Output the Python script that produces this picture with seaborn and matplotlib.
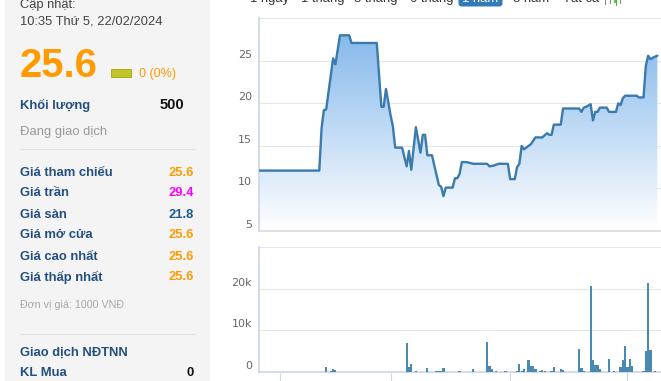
import numpy as np
import pandas as pd
import matplotlib
matplotlib.use("Agg")
import matplotlib.pyplot as plt
from matplotlib.patches import Rectangle, FancyBboxPatch
from matplotlib.colors import LinearSegmentedColormap
import seaborn as sns

sns.set_theme(style="white")
plt.rcParams['font.family'] = ['Liberation Sans', 'DejaVu Sans']

# price path, 1 year (session index -> price in 1000 VND)
price_session = [0, 26, 27, 28, 29, 32, 33, 35, 39, 40, 51, 53, 54, 55, 57, 58, 59, 62, 64, 65,
                 66, 68, 70, 71, 72, 73, 75, 78, 79, 80, 81, 84, 85, 86, 87, 88, 90, 93, 99, 100,
                 102, 104, 108, 109, 111, 112, 113, 114, 115, 116, 118, 120, 123, 125, 126, 127,
                 128, 131, 132, 139, 140, 141, 142, 144, 145, 146, 147, 148, 151, 152, 155, 156,
                 157, 158, 159, 164, 165, 167, 168, 169, 170, 172, 173]
price_value = [12.1, 12.1, 17.1, 19.2, 19.3, 25.3, 24.6, 28.0, 28.0, 27.1, 27.1, 19.6, 19.6, 21.7,
               18.6, 17.3, 14.8, 14.8, 12.6, 14.4, 12.2, 17.2, 14.2, 16.3, 16.3, 13.9, 13.9, 10.4,
               10.2, 9.1, 10.1, 10.1, 11.2, 11.2, 11.7, 13.1, 13.1, 12.9, 12.9, 12.6, 12.7, 12.9,
               12.9, 11.1, 11.1, 12.5, 12.9, 15.0, 14.6, 14.8, 15.2, 16.0, 16.0, 16.5, 16.3, 16.3,
               17.5, 17.5, 19.4, 19.4, 19.0, 19.5, 19.6, 19.9, 18.0, 19.0, 19.0, 19.5, 19.5, 19.0,
               19.0, 20.0, 19.8, 20.6, 20.9, 20.9, 20.7, 20.7, 24.4, 25.6, 25.2, 25.5, 25.6]

# volume bars (session index -> shares)
vol_session = [29, 31, 32, 33, 64, 65, 66, 68, 73, 77, 78, 79, 80, 87, 93, 99, 100, 101, 103, 107,
               112, 113, 114, 115, 117, 118, 119, 120, 122, 123, 124, 127, 128, 131, 132, 139,
               140, 141, 144, 145, 146, 147, 148, 152, 154, 157, 158, 159, 160, 161, 162, 167,
               168, 169, 170, 172]
vol_value = [1200, 250, 700, 500, 7000, 1200, 1900, 250, 1000, 250, 250, 250, 1000, 250, 650,
             7300, 1500, 700, 250, 250, 250, 1900, 250, 700, 2900, 1400, 1400, 700, 250, 500,
             250, 250, 1200, 700, 500, 5600, 1000, 250, 20800, 2900, 1700, 1700, 700, 3100, 250,
             1200, 2900, 6300, 1200, 3100, 1400, 250, 5100, 21300, 5300, 250]

price_ticks = [5, 10, 15, 20, 25]
price_labels = ["5", "10", "15", "20", "25"]
vol_ticks = [0, 10000, 20000]
vol_labels = ["0", "10k", "20k"]
x_tick_sessions = [9, 57, 109, 160]

tabs = ["1 ngày", "1 tháng", "3 tháng", "6 tháng", "3 năm", "Tất cả"]
tab_x = [250, 300.7, 354, 410, 512.7, 562.7]

info_labels = ["Giá tham chiếu", "Giá trần", "Giá sàn", "Giá mở cửa", "Giá cao nhất", "Giá thấp nhất"]
info_values = ["25.6", "29.4", "21.8", "25.6", "25.6", "25.6"]
info_colors = ["#ff9a00", "#ff00ff", "#1b5a8e", "#ff9a00", "#ff9a00", "#ff9a00"]

price_df = pd.DataFrame({"session": price_session, "price": price_value})
vol_df = pd.DataFrame({"session": vol_session, "volume": vol_value})

W, H = 661, 381
fig = plt.figure(figsize=(W / 100, H / 100), dpi=100)

# background / text layer in pixel coords
bg = fig.add_axes([0, 0, 1, 1])
bg.set_xlim(0, W)
bg.set_ylim(H, 0)
bg.axis("off")
bg.add_patch(Rectangle((5, -5), 205, H + 10, color="#f4f4f4", lw=0))

navy = "#234e80"
bg.text(20.5, 8.3, "Cập nhật:", fontsize=9.3, color="#444444", va="baseline")
bg.text(20.5, 24.3, "10:35 Thứ 5, 22/02/2024", fontsize=9.3, color="#444444", va="baseline")
bg.text(19.5, 76.7, "25.6", fontsize=28.8, fontweight="bold", color="#ff9a00", va="baseline")
bg.add_patch(Rectangle((111, 69.3), 19.7, 8, facecolor="#c3c32a", edgecolor="#a5a500", lw=0.6))
bg.text(138.7, 76.5, "0 (0%)", fontsize=9.0, color="#ff9a00", va="baseline")
bg.text(20.5, 109, "Khối lượng", fontsize=9.4, fontweight="bold", color=navy, va="baseline")
bg.text(184, 109, "500", fontsize=10.6, fontweight="bold", color="#111111", va="baseline", ha="right")
bg.text(20, 135.5, "Đang giao dịch", fontsize=9.4, color="#9a9a9a", va="baseline")
bg.plot([20, 195], [149, 149], color="#e2e2e2", lw=0.8)
for k, (lab, val, col) in enumerate(zip(info_labels, info_values, info_colors)):
    yb = 175.5 + 21 * k
    bg.text(20, yb, lab, fontsize=9.4, fontweight="bold", color=navy, va="baseline")
    bg.text(194, yb, val, fontsize=9.4, fontweight="bold", color=col, va="baseline", ha="right")
bg.text(20, 308.3, "Đơn vị giá: 1000 VNĐ", fontsize=7.7, color="#a8a8a8", va="baseline")
bg.plot([20, 195], [334.3, 334.3], color="#e2e2e2", lw=0.8)
bg.text(20, 355.7, "Giao dịch NĐTNN", fontsize=9.4, fontweight="bold", color=navy, va="baseline")
bg.text(20, 376, "KL Mua", fontsize=9.4, fontweight="bold", color=navy, va="baseline")
bg.text(194, 376, "0", fontsize=9.4, fontweight="bold", color="#111111", va="baseline", ha="right")

# range tabs (cut off at top)
for t, x in zip(tabs, tab_x):
    bg.text(x, 1.8, t, fontsize=9.4, color="#333333", va="baseline")
bg.add_patch(FancyBboxPatch((458.5, -12), 44, 18.5, boxstyle="round,pad=0,rounding_size=3",
                            facecolor="#337ab7", edgecolor="none"))
bg.text(480.5, 1.8, "1 năm", fontsize=9.4, color="white", va="baseline", ha="center")
bg.plot([605, 605], [-2, 4], color="#888888", lw=0.8)
bg.plot([610, 610], [-2, 3], color="#888888", lw=0.8)
bg.plot([615.5, 615.5], [-2, 5], color="#4caf30", lw=0.8)
bg.add_patch(Rectangle((614, -1), 3, 3.5, color="#5cc83a", lw=0))
bg.plot([620, 620], [-2, 3], color="#888888", lw=0.8)

xmin, xmax = -0.22, 174.6
grid_c = "#e6e6e6"
axis_c = "#ccd6eb"

# price chart
ax = fig.add_axes([259 / W, 1 - 231 / H, (W - 259) / W, (231 - 18.3) / H])
poly = ax.fill_between(price_df["session"], price_df["price"], 5, facecolor="none", lw=0)
grad = np.linspace(0, 1, 256).reshape(-1, 1)
cmap = LinearSegmentedColormap.from_list("area", ["#7cb3ea", "#ffffff"])
im = ax.imshow(grad, aspect="auto", cmap=cmap, extent=[xmin, xmax, 5, 30], origin="upper", zorder=1)
im.set_clip_path(poly.get_paths()[0], transform=ax.transData)
sns.lineplot(data=price_df, x="session", y="price", ax=ax, color="#3a7aad", lw=1.7, zorder=3)
ax.set_xlim(xmin, xmax)
ax.set_ylim(5, 30)
ax.set_yticks([5, 10, 15, 20, 25, 30])
ax.set_xticks([])
ax.set_yticklabels([])
ax.tick_params(left=False, bottom=False)
ax.grid(axis="y", color=grid_c, lw=0.8)
ax.set_axisbelow(True)
for v, lab in zip(price_ticks, price_labels):
    ax.annotate(lab, xy=(0, v), xycoords=("axes fraction", "data"), xytext=(-7, 1),
                textcoords="offset pixels", ha="right", va="bottom", fontsize=8,
                family="DejaVu Sans", color="#666666")
ax.set_xlabel("")
ax.set_ylabel("")
for s in ["top", "right"]:
    ax.spines[s].set_visible(False)
ax.spines["left"].set_color(axis_c)
ax.spines["bottom"].set_color("#dddddd")
ax.patch.set_alpha(0)

# volume chart
av = fig.add_axes([259 / W, 1 - 372 / H, (W - 259) / W, (372 - 247.3) / H])
sns.barplot(data=vol_df, x="session", y="volume", native_scale=True, errorbar=None,
            color="#4a8ab0", saturation=1, width=0.9, linewidth=0, ax=av, zorder=3)
# keep each bar ~2px wide, centred on its session
for p in av.patches:
    c = p.get_x() + p.get_width() / 2
    p.set_width(0.95)
    p.set_x(c - 0.475)
    p.set_antialiased(False)
av.set_xlim(xmin, xmax)
av.set_ylim(0, 30000)
av.set_yticks([0, 10000, 20000, 30000])
av.set_yticklabels([])
av.set_xticks(x_tick_sessions)
av.set_xticklabels([])
av.tick_params(axis="x", bottom=True, length=6.5, width=0.8, color=axis_c, direction="out")
av.tick_params(axis="y", left=False)
av.grid(axis="y", color=grid_c, lw=0.8)
av.set_axisbelow(True)
for v, lab in zip(vol_ticks, vol_labels):
    av.annotate(lab, xy=(0, v), xycoords=("axes fraction", "data"), xytext=(-7, 1),
                textcoords="offset pixels", ha="right", va="bottom", fontsize=8,
                family="DejaVu Sans", color="#666666")
av.set_xlabel("")
av.set_ylabel("")
for s in ["top", "right"]:
    av.spines[s].set_visible(False)
av.spines["left"].set_color(axis_c)
av.spines["bottom"].set_color(axis_c)
av.patch.set_alpha(0)

fig.savefig("out.png", dpi=100)
